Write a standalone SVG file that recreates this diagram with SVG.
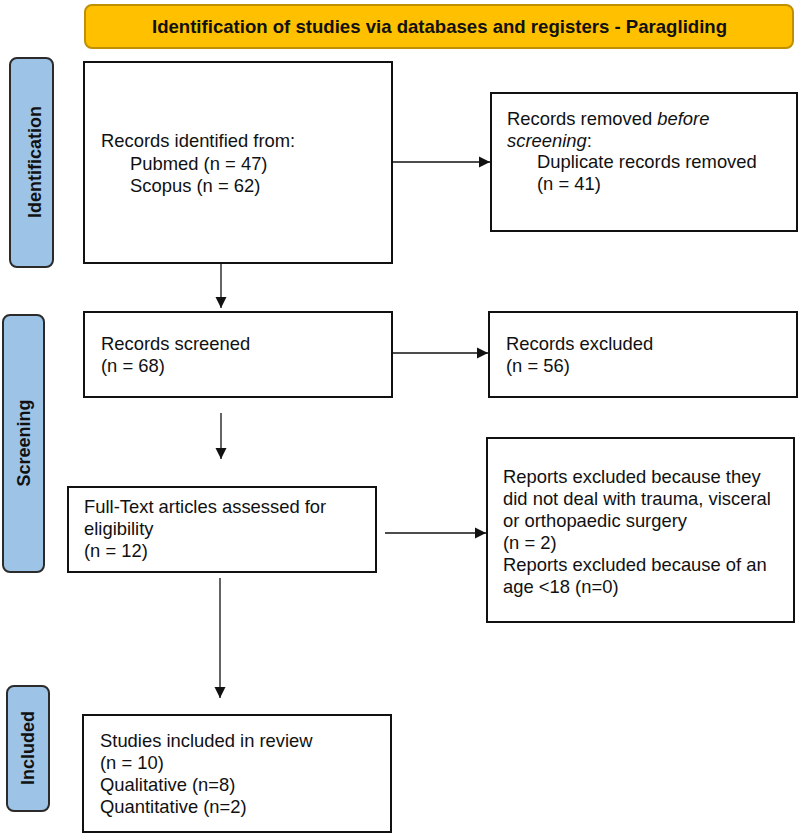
<svg xmlns="http://www.w3.org/2000/svg" width="800" height="834" viewBox="0 0 800 834">
<style>
.bg{fill:#ffffff}
.box{fill:#ffffff;stroke:#111;stroke-width:2}
.side{fill:#9DC3E6;stroke:#2b2b2b;stroke-width:2}
.t{font-family:"Liberation Sans",Arial,sans-serif;font-size:18.4px;fill:#111}
.sl{font-family:"Liberation Sans",Arial,sans-serif;font-size:18px;font-weight:bold;fill:#111;text-anchor:middle}
.title{font-family:"Liberation Sans",Arial,sans-serif;font-size:19px;font-weight:bold;fill:#111}
.c line{stroke:#111;stroke-width:1.3}
</style>
<defs>
<marker id="ah" markerWidth="12" markerHeight="12" refX="11" refY="6" orient="auto" markerUnits="userSpaceOnUse"><path d="M0,0.5 L11,6 L0,11.5 Z" fill="#111"/></marker>
</defs>
<rect class="bg" width="800" height="834"/>
<g id="title"><rect x="85" y="5" width="708" height="43" rx="7" fill="#FFC000" stroke="#BF9000" stroke-width="2"/>
<text class="title" x="152" y="33" textLength="575" lengthAdjust="spacingAndGlyphs">Identification of studies via databases and registers - Paragliding</text></g>
<g id="lbl-identification"><rect class="side" x="10" y="58" width="43" height="209" rx="7"/>
<text class="sl" transform="translate(41,162) rotate(-90)">Identification</text></g>
<g id="lbl-screening"><rect class="side" x="3" y="315" width="41" height="257" rx="7"/>
<text class="sl" transform="translate(30,443) rotate(-90)">Screening</text></g>
<g id="lbl-included"><rect class="side" x="7" y="686" width="42" height="125" rx="7"/>
<text class="sl" transform="translate(34,748) rotate(-90)">Included</text></g>
<g id="identified"><rect class="box" x="84" y="62" width="308" height="201"/>
<text class="t" x="101" y="147">Records identified from:</text>
<text class="t" x="130" y="170">Pubmed (n = 47)</text>
<text class="t" x="130" y="192">Scopus (n = 62)</text></g>
<g id="removed"><rect class="box" x="491" y="93" width="306" height="138"/>
<text class="t" x="507" y="125">Records removed <tspan font-style="italic">before</tspan></text>
<text class="t" x="507" y="147"><tspan font-style="italic">screening</tspan>:</text>
<text class="t" x="537" y="168">Duplicate records removed</text>
<text class="t" x="537" y="190">(n = 41)</text></g>
<g id="screened"><rect class="box" x="84" y="312" width="308" height="85"/>
<text class="t" x="101" y="350">Records screened</text>
<text class="t" x="101" y="372">(n = 68)</text></g>
<g id="excluded"><rect class="box" x="489" y="312" width="308" height="85"/>
<text class="t" x="506" y="350">Records excluded</text>
<text class="t" x="506" y="372">(n = 56)</text></g>
<g id="fulltext"><rect class="box" x="68" y="487" width="308" height="85"/>
<text class="t" x="84" y="513">Full-Text articles assessed for</text>
<text class="t" x="84" y="535">eligibility</text>
<text class="t" x="84" y="557">(n = 12)</text></g>
<g id="reports-excluded"><rect class="box" x="487" y="438" width="307" height="184"/>
<text class="t" x="503" y="483">Reports excluded because they</text>
<text class="t" x="503" y="505">did not deal with trauma, visceral</text>
<text class="t" x="503" y="527">or orthopaedic surgery</text>
<text class="t" x="503" y="549">(n = 2)</text>
<text class="t" x="503" y="571">Reports excluded because of an</text>
<text class="t" x="503" y="593">age &lt;18 (n=0)</text></g>
<g id="included"><rect class="box" x="83" y="715" width="308" height="117"/>
<text class="t" x="100" y="747">Studies included in review</text>
<text class="t" x="100" y="769">(n = 10)</text>
<text class="t" x="100" y="791">Qualitative (n=8)</text>
<text class="t" x="100" y="813">Quantitative (n=2)</text></g>
<g id="connectors" class="c">
<line x1="392" y1="162" x2="490" y2="162" marker-end="url(#ah)"/>
<line x1="221" y1="263" x2="221" y2="308" marker-end="url(#ah)"/>
<line x1="392" y1="353" x2="488" y2="353" marker-end="url(#ah)"/>
<line x1="221" y1="413" x2="221" y2="459" marker-end="url(#ah)"/>
<line x1="385" y1="533" x2="486" y2="533" marker-end="url(#ah)"/>
<line x1="220" y1="578" x2="220" y2="698" marker-end="url(#ah)"/>
</g>
</svg>
